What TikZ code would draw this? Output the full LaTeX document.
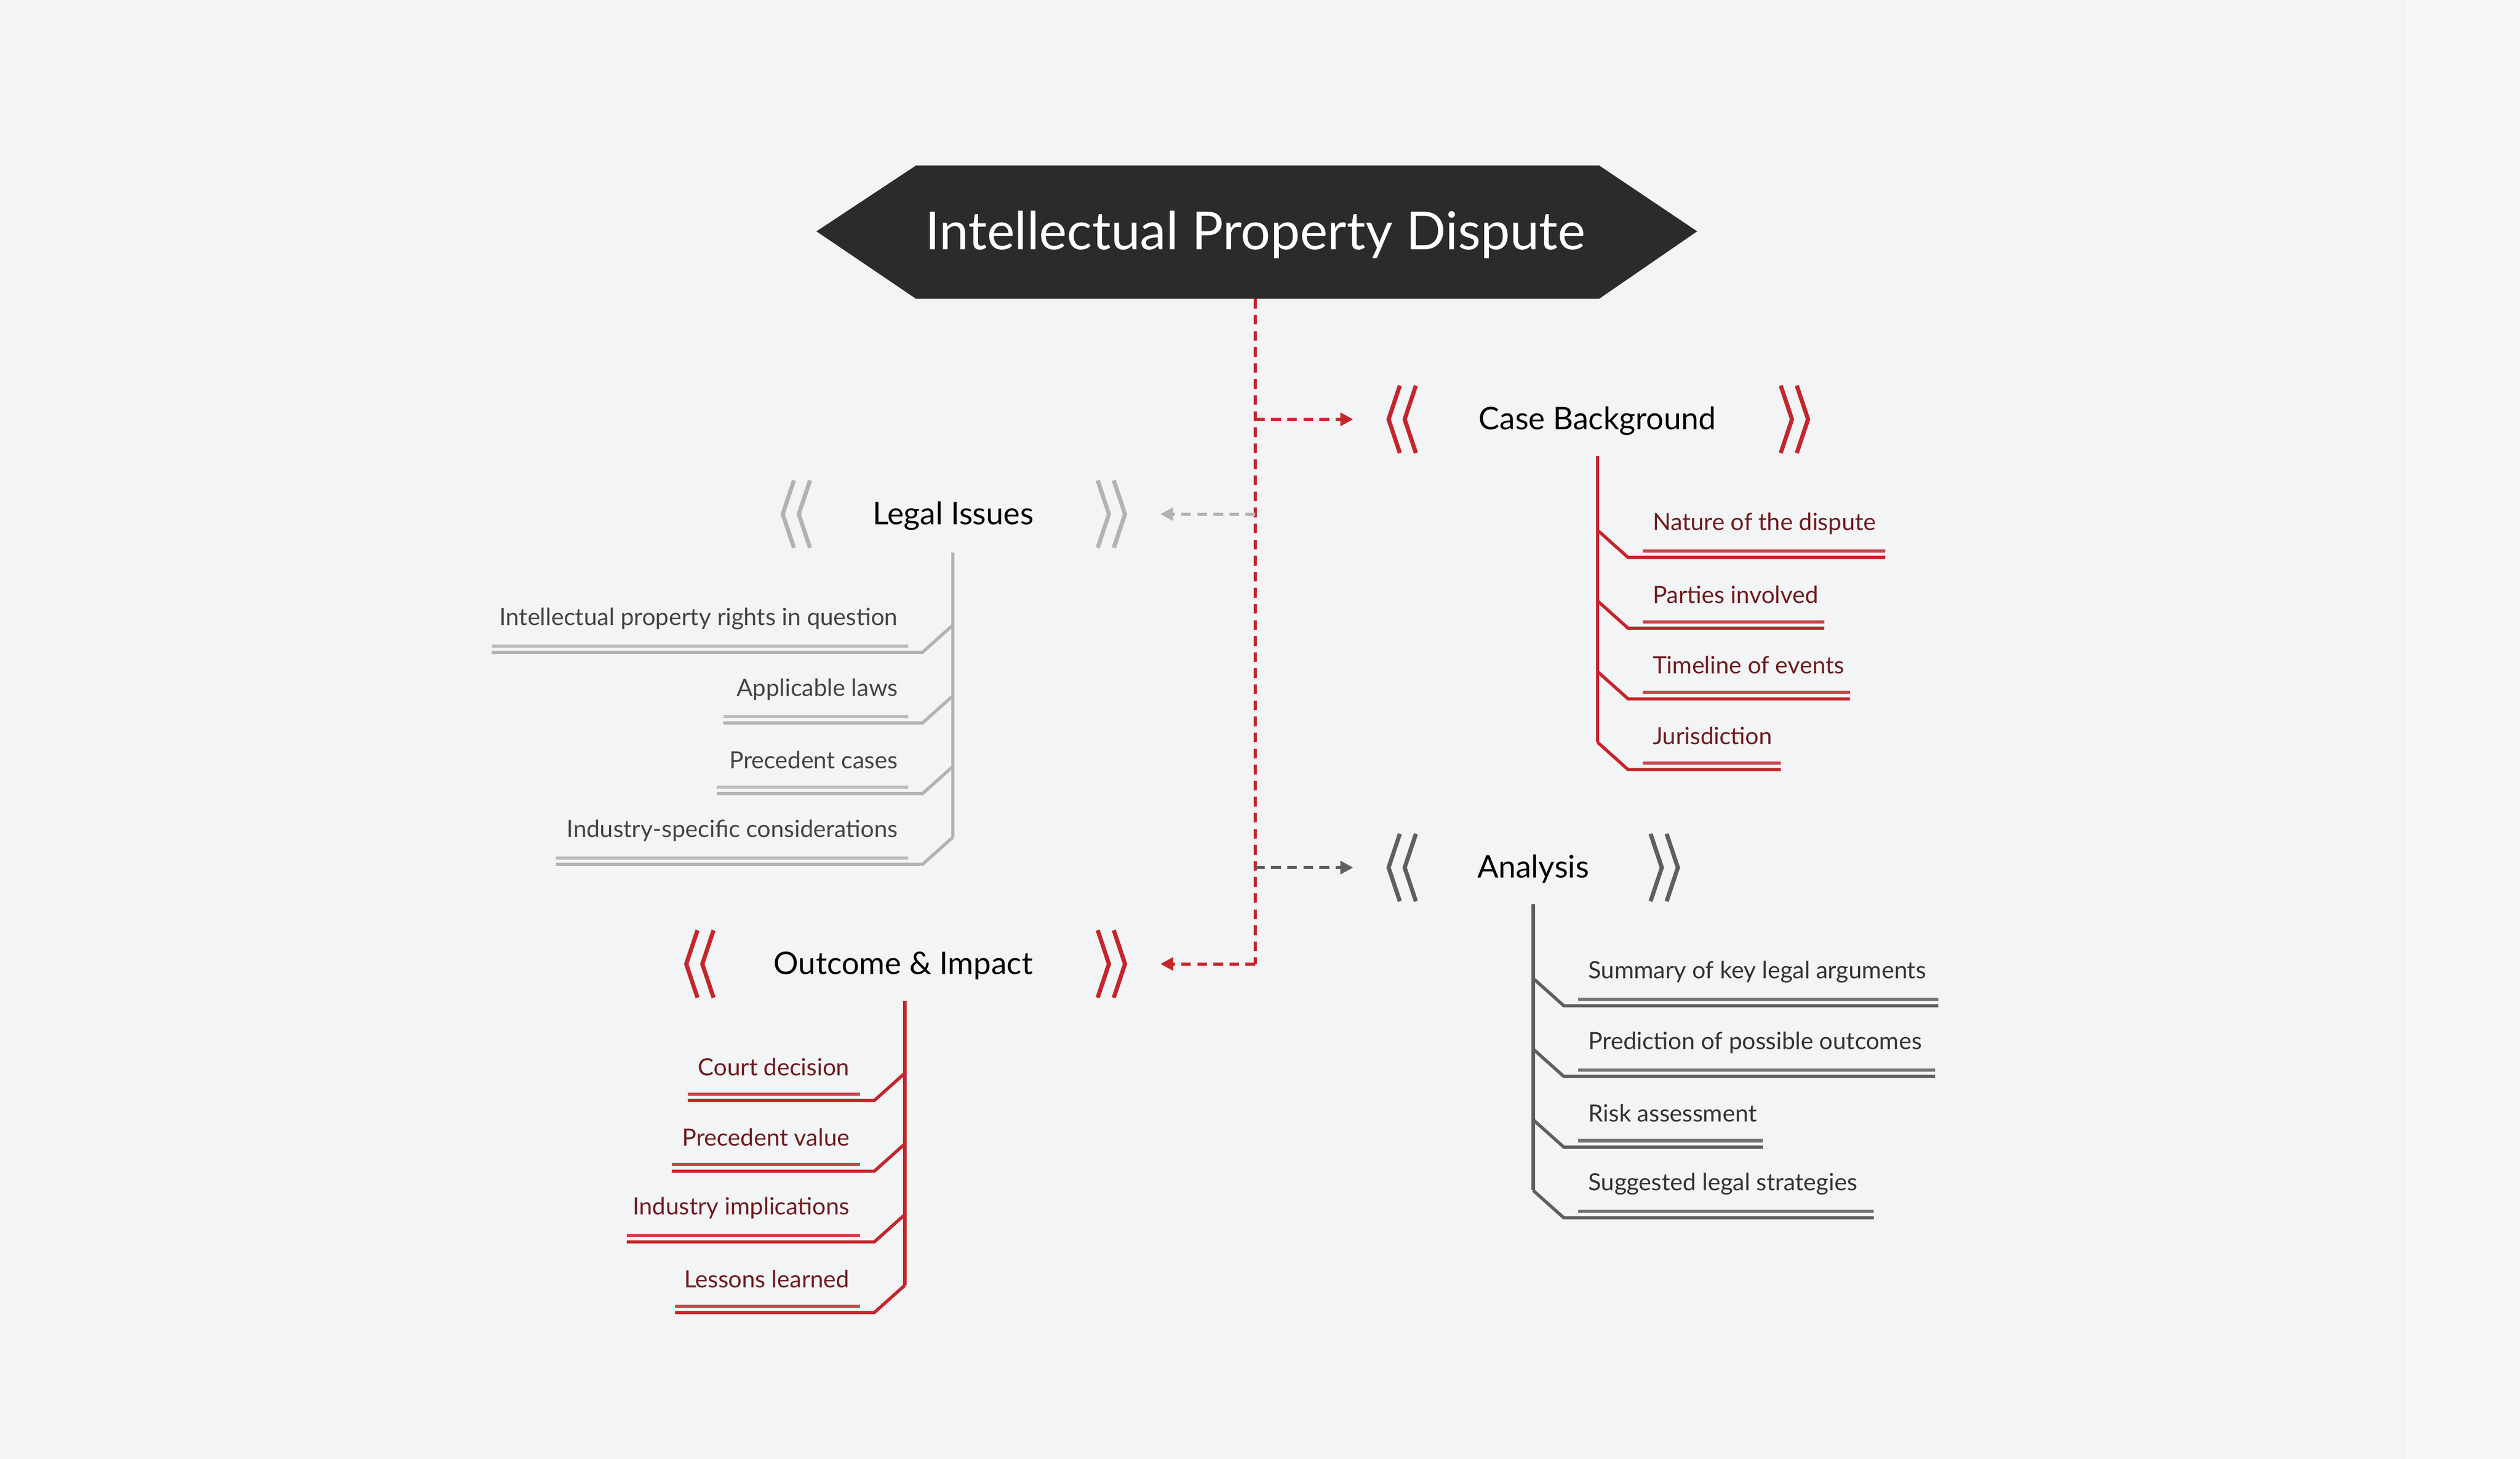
\documentclass[tikz,border=0pt]{standalone}
\usepackage{fontspec}
\setmainfont{Lato}
\usetikzlibrary{arrows.meta}
\definecolor{bg}{HTML}{F3F4F6}
\definecolor{bgr}{HTML}{F7F8F9}
\definecolor{dark}{HTML}{2B2B2B}
\definecolor{rd}{HTML}{C4262B}
\definecolor{rdt}{HTML}{6E1C1E}
\definecolor{lg}{HTML}{B3B3B3}
\definecolor{lgt}{HTML}{444444}
\definecolor{dg}{HTML}{5F5F5F}
\definecolor{dgt}{HTML}{333333}
\tikzset{
  chevline/.style={line width=1.3pt},
  branch/.style={line width=1pt},
  dashcon/.style={line width=1pt, dash pattern=on 3pt off 2pt, -{Triangle[length=4pt,width=4pt]}},
  header/.style={font=\fontsize{9.7}{11}\selectfont, text=black},
  itemtxt/.style={font=\fontsize{7.4}{9}\selectfont},
}
\newcommand\dblchev[4]{%
  \ifnum#4=1
    \draw[chevline,#3] (#1+7,#2-21) -- (#1,#2) -- (#1+7,#2+21);
    \draw[chevline,#3] (#1+17,#2-21) -- (#1+10,#2) -- (#1+17,#2+21);
  \else
    \draw[chevline,#3] (#1,#2-21) -- (#1+7,#2) -- (#1,#2+21);
    \draw[chevline,#3] (#1+10,#2-21) -- (#1+17,#2) -- (#1+10,#2+21);
  \fi}
\newcommand\ritem[7]{%
  \draw[branch,#6] (#2,#3+4) -- (#2+19,#3+21) -- (#4,#3+21);
  \draw[branch,#6,opacity=0.85] (#2+28,#3+17) -- (#4,#3+17);
  \node[itemtxt,text=#7,anchor=west,inner sep=0] (#1) at (#2+34,#3) {#5};}
\newcommand\litem[7]{%
  \draw[branch,#6] (#2,#3+4) -- (#2-19,#3+21) -- (#4,#3+21);
  \draw[branch,#6,opacity=0.85] (#2-28,#3+17) -- (#4,#3+17);
  \node[itemtxt,text=#7,anchor=east,inner sep=0] (#1) at (#2-34,#3) {#5};}
\begin{document}
\begin{tikzpicture}[x=0.5pt,y=-0.5pt]
\fill[bg] (0,0) rectangle (1568,908);
\fill[bgr] (1497,0) rectangle (1568,908);
\useasboundingbox (0,0) rectangle (1568,908);
% title
\fill[dark] (508,144) -- (570,103) -- (995,103) -- (1056,144) -- (995,186) -- (570,186) -- cycle;
\node[text=white,font=\fontsize{16.3}{19}\selectfont] (t) at (781,146) {Intellectual Property Dispute};
\coordinate (tb) at (781,186);
\coordinate (j1) at (781,261);
\coordinate (j2) at (781,320);
\coordinate (j3) at (781,540);
\coordinate (j4) at (781,600);
\draw[rd,line width=1pt,dash pattern=on 3pt off 2pt] (tb) -- (j4);
% headers
\node[header] (cb) at (994,262) {Case Background};
\node[header] (li) at (593,321) {Legal Issues};
\node[header] (an) at (954,541) {Analysis};
\node[header] (oi) at (562,601) {Outcome \& Impact};
\coordinate (cbL) at (842,261);
\coordinate (liR) at (722,320);
\coordinate (anL) at (842,540);
\coordinate (oiR) at (722,600);
\draw[dashcon,rd] (j1) -- (cbL);
\draw[dashcon,lg] (j2) -- (liR);
\draw[dashcon,dg] (j3) -- (anL);
\draw[dashcon,rd] (j4) -- (oiR);
\dblchev{864}{261}{rd}{1}\dblchev{1108}{261}{rd}{-1}
\dblchev{487}{320}{lg}{1}\dblchev{683}{320}{lg}{-1}
\dblchev{864}{540}{dg}{1}\dblchev{1027}{540}{dg}{-1}
\dblchev{427}{600}{rd}{1}\dblchev{683}{600}{rd}{-1}
% Case Background
\draw[branch,rd] (994,284) -- (994,462);
\ritem{cb1}{994}{326}{1173}{Nature of the dispute}{rd}{rdt}
\ritem{cb2}{994}{370}{1135}{Parties involved}{rd}{rdt}
\ritem{cb3}{994}{414}{1151}{Timeline of events}{rd}{rdt}
\ritem{cb4}{994}{458}{1108}{Jurisdiction}{rd}{rdt}
% Analysis
\draw[branch,dg] (954,563) -- (954,741);
\ritem{an1}{954}{605}{1206}{Summary of key legal arguments}{dg}{dgt}
\ritem{an2}{954}{649}{1204}{Prediction of possible outcomes}{dg}{dgt}
\ritem{an3}{954}{693}{1097}{Risk assessment}{dg}{dgt}
\ritem{an4}{954}{737}{1166}{Suggested legal strategies}{dg}{dgt}
% Legal Issues
\draw[branch,lg] (593,344) -- (593,521);
\litem{li1}{593}{385}{306}{Intellectual property rights in question}{lg}{lgt}
\litem{li2}{593}{429}{450}{Applicable laws}{lg}{lgt}
\litem{li3}{593}{473}{446}{Precedent cases}{lg}{lgt}
\litem{li4}{593}{517}{346}{Industry-specific considerations}{lg}{lgt}
% Outcome
\draw[branch,rd] (563,623) -- (563,800);
\litem{oi1}{563}{664}{428}{Court decision}{rd}{rdt}
\litem{oi2}{563}{708}{418}{Precedent value}{rd}{rdt}
\litem{oi3}{563}{752}{390}{Industry implications}{rd}{rdt}
\litem{oi4}{563}{796}{420}{Lessons learned}{rd}{rdt}
\end{tikzpicture}
\end{document}
